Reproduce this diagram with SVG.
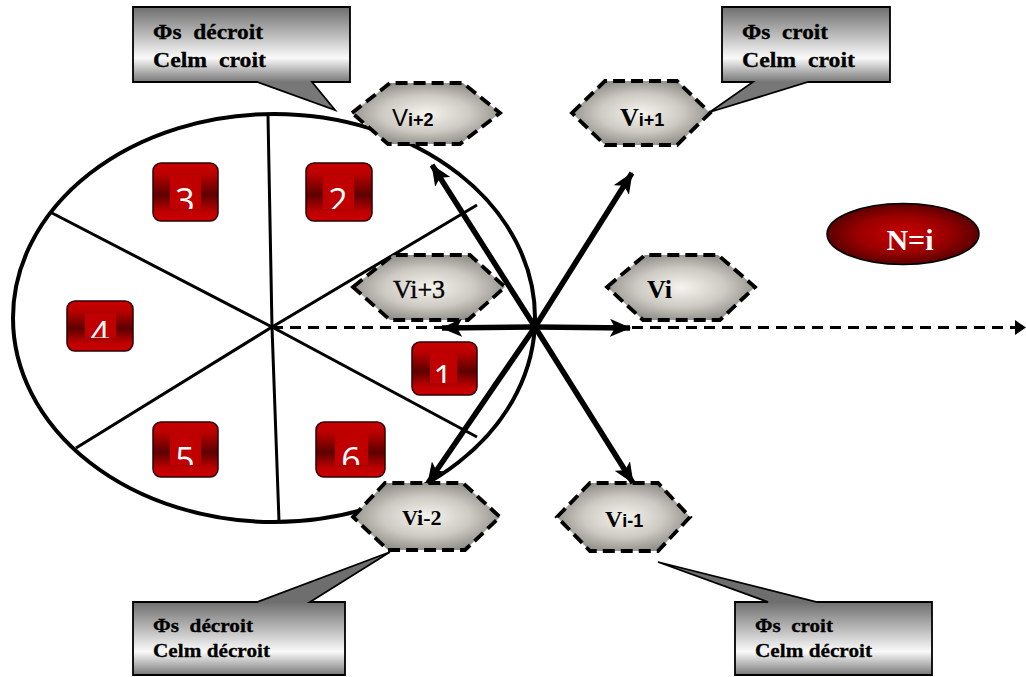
<svg xmlns="http://www.w3.org/2000/svg" width="1026" height="677" viewBox="0 0 1026 677">
<style>
.sec{stroke:#000;stroke-width:3;fill:none}
.hex{fill:url(#hg);stroke:#000;stroke-width:3.8;stroke-dasharray:12 6}
.arr{stroke:#000;stroke-width:5.5;fill:none;marker-end:url(#ah)}
.co{stroke:#000;stroke-width:1.8}
.ct{font-family:"Liberation Serif",serif;font-weight:bold;fill:#000;stroke:#000;stroke-width:0.3}
.rb{fill:url(#rg);stroke:#2a0000;stroke-width:1.5}
.ri{fill:#c00000}
.num{font-family:"Open Sans","Liberation Sans",sans-serif;font-size:34px;fill:#fff;text-anchor:middle}
.ser{font-family:"Liberation Serif",serif;font-weight:bold}
.san{font-family:"Liberation Sans",sans-serif;font-weight:bold}
</style>
<defs>
<radialGradient id="hg" cx="0.5" cy="0.5" r="0.6">
<stop offset="0" stop-color="#f6f4ee"/><stop offset="0.5" stop-color="#cdcac3"/><stop offset="1" stop-color="#7e7c77"/>
</radialGradient>
<linearGradient id="rg" x1="0" y1="0" x2="0" y2="1">
<stop offset="0" stop-color="#cc0000"/><stop offset="0.2" stop-color="#b80000"/><stop offset="0.55" stop-color="#5e0000"/><stop offset="0.85" stop-color="#c00000"/><stop offset="1" stop-color="#cc0000"/>
</linearGradient>
<radialGradient id="ng" cx="0.5" cy="0.5" r="0.5">
<stop offset="0" stop-color="#c80000"/><stop offset="0.6" stop-color="#9a0000"/><stop offset="1" stop-color="#5a0000"/>
</radialGradient>
<linearGradient id="cg" x1="0" y1="0" x2="0" y2="1">
<stop offset="0" stop-color="#6e6e6e"/><stop offset="0.68" stop-color="#fafafa"/><stop offset="1" stop-color="#777"/>
</linearGradient>
<linearGradient id="cg1" href="#cg" gradientUnits="userSpaceOnUse" x1="0" y1="7" x2="0" y2="82"/>
<linearGradient id="cg2" href="#cg" gradientUnits="userSpaceOnUse" x1="0" y1="7" x2="0" y2="82"/>
<linearGradient id="cg3" href="#cg" gradientUnits="userSpaceOnUse" x1="0" y1="602" x2="0" y2="675"/>
<linearGradient id="cg4" href="#cg" gradientUnits="userSpaceOnUse" x1="0" y1="602" x2="0" y2="675"/>
<marker id="ah" markerUnits="userSpaceOnUse" markerWidth="21" markerHeight="18" refX="20" refY="9" orient="auto">
<path d="M0,0 L21,9 L0,18 L5,9 Z" fill="#000"/>
</marker>
<clipPath id="c1"><rect x="430" y="353" width="27" height="30"/></clipPath>
<clipPath id="c2"><rect x="323" y="175" width="31" height="34"/></clipPath>
<clipPath id="c3"><rect x="170" y="175" width="31" height="34"/></clipPath>
<clipPath id="c4"><rect x="85" y="313" width="31" height="25"/></clipPath>
<clipPath id="c5"><rect x="170" y="433" width="31" height="32"/></clipPath>
<clipPath id="c6"><rect x="335" y="433" width="33" height="32"/></clipPath>
</defs>
<rect width="1026" height="677" fill="#fff"/>

<g id="sectors">
<ellipse cx="274" cy="318" rx="261" ry="204" fill="none" stroke="#000" stroke-width="4"/>
<path class="sec" d="M268,116 L272,327 L279,521"/>
<path class="sec" d="M52,213 L272,327 L477,205"/>
<path class="sec" d="M76,448 L272,327 L477,437"/>
</g>

<g id="axis">
<path d="M272,327.5 H1015" stroke="#000" stroke-width="2.8" stroke-dasharray="11 7" fill="none"/>
<polygon points="1015,320 1026,327.5 1015,335" fill="#000"/>
</g>

<g id="sector-1"><rect class="rb" x="412" y="342" width="65" height="53" rx="8"/><rect class="ri" x="430" y="353" width="27" height="30"/><text class="num" x="443" y="390" clip-path="url(#c1)">1</text></g>
<g id="sector-2"><rect class="rb" x="306" y="163" width="66" height="58" rx="8"/><rect class="ri" x="323" y="175" width="31" height="34"/><text class="num" x="338" y="213" clip-path="url(#c2)">2</text></g>
<g id="sector-3"><rect class="rb" x="153" y="163" width="65" height="58" rx="8"/><rect class="ri" x="170" y="175" width="31" height="34"/><text class="num" x="185" y="213" clip-path="url(#c3)">3</text></g>
<g id="sector-4"><rect class="rb" x="67" y="301" width="66" height="50" rx="8"/><rect class="ri" x="85" y="313" width="31" height="25"/><text class="num" x="100" y="346" clip-path="url(#c4)">4</text></g>
<g id="sector-5"><rect class="rb" x="153" y="422" width="65" height="55" rx="8"/><rect class="ri" x="170" y="433" width="31" height="32"/><text class="num" x="185" y="472" clip-path="url(#c5)">5</text></g>
<g id="sector-6"><rect class="rb" x="316" y="422" width="69" height="55" rx="8"/><rect class="ri" x="335" y="433" width="33" height="32"/><text class="num" x="351" y="472" clip-path="url(#c6)">6</text></g>

<g id="n-i">
<ellipse cx="903" cy="234" rx="76" ry="30.5" fill="url(#ng)" stroke="#000" stroke-width="1.5"/>
<text x="910" y="250" class="ser" font-size="30" fill="#fff" text-anchor="middle">N=i</text>
</g>

<g id="hex-vi2"><polygon class="hex" points="352,113 390,83 463,83 500,113 460,144 388,144"/>
<text x="392" y="126"><tspan font-family="Liberation Sans, sans-serif" font-size="24">V</tspan><tspan class="san" font-size="18">i+2</tspan></text></g>
<g id="hex-vi1"><polygon class="hex" points="572,113 605,81 677,81 710,113 677,145 605,145"/>
<text x="620" y="126"><tspan class="ser" font-size="26">V</tspan><tspan class="san" font-size="18">i+1</tspan></text></g>
<g id="hex-vi3"><polygon class="hex" points="353,287 393,255 470,255 505,287 468,320 390,320"/>
<text x="393" y="298" font-family="Liberation Serif, serif" font-size="26" stroke="#000" stroke-width="0.4">Vi+3</text></g>
<g id="hex-vi"><polygon class="hex" points="607,287 645,255 718,255 755,287 720,320 643,320"/>
<text x="647" y="298" class="ser" font-size="26">Vi</text></g>
<g id="hex-vim2"><polygon class="hex" points="353,517 385,483 463,483 500,517 465,550 388,550"/>
<text x="402" y="525" class="ser" font-size="22">Vi-2</text></g>
<g id="hex-vim1"><polygon class="hex" points="557,517 590,483 658,483 690,517 658,551 590,551"/>
<text x="605" y="527"><tspan class="ser" font-size="24">V</tspan><tspan class="san" font-size="18">i-1</tspan></text></g>

<g id="connectors">
<line class="arr" x1="535" y1="327" x2="432" y2="165"/>
<line class="arr" x1="535" y1="327" x2="632" y2="173"/>
<line class="arr" x1="535" y1="327" x2="442" y2="328"/>
<line class="arr" x1="535" y1="327" x2="630" y2="328"/>
<line class="arr" x1="535" y1="327" x2="428" y2="483"/>
<line class="arr" x1="535" y1="327" x2="633" y2="483"/>
</g>

<g id="callout-tl">
<path class="co" fill="url(#cg1)" d="M133,7 H350 V82 H312 L335,110 L257,82 H133 Z"/>
<text class="ct" xml:space="preserve" font-size="20"><tspan x="153" y="39" textLength="110" lengthAdjust="spacingAndGlyphs">Φs  décroit</tspan><tspan x="153" y="67" textLength="113" lengthAdjust="spacingAndGlyphs">Celm  croit</tspan></text>
</g>
<g id="callout-tr">
<path class="co" fill="url(#cg2)" d="M722,7 H890 V82 H808 L710,112 L753,82 H722 Z"/>
<text class="ct" xml:space="preserve" font-size="20"><tspan x="742" y="39" textLength="86" lengthAdjust="spacingAndGlyphs">Φs  croit</tspan><tspan x="742" y="67" textLength="113" lengthAdjust="spacingAndGlyphs">Celm  croit</tspan></text>
</g>
<g id="callout-bl">
<path class="co" fill="url(#cg3)" d="M133,602 H257 L390,552 L310,602 H345 V675 H133 Z"/>
<text class="ct" xml:space="preserve" font-size="19"><tspan x="153" y="632" textLength="100" lengthAdjust="spacingAndGlyphs">Φs  décroit</tspan><tspan x="153" y="657" textLength="117" lengthAdjust="spacingAndGlyphs">Celm décroit</tspan></text>
</g>
<g id="callout-br">
<path class="co" fill="url(#cg4)" d="M735,602 H768 L658,562 L817,602 H932 V675 H735 Z"/>
<text class="ct" xml:space="preserve" font-size="19"><tspan x="755" y="632" textLength="78" lengthAdjust="spacingAndGlyphs">Φs  croit</tspan><tspan x="755" y="657" textLength="117" lengthAdjust="spacingAndGlyphs">Celm décroit</tspan></text>
</g>
</svg>
